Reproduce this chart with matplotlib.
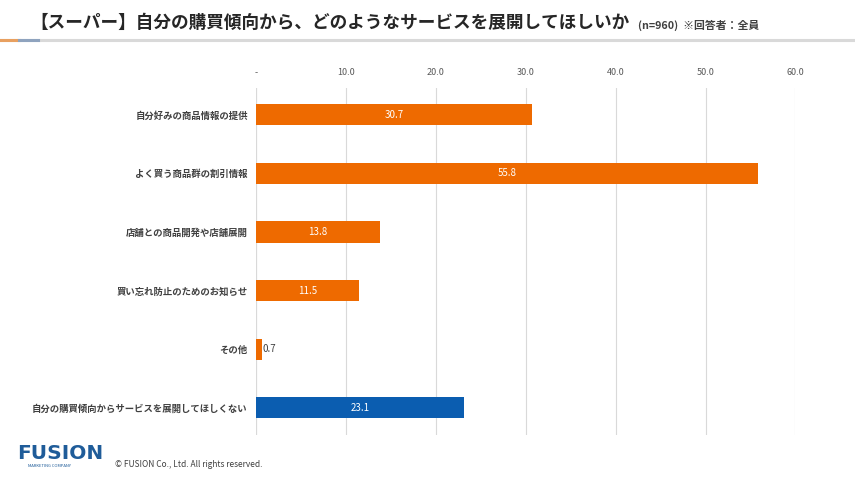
import matplotlib.pyplot as plt
from matplotlib.lines import Line2D

plt.rcParams['font.family'] = ['Noto Sans CJK JP', 'DejaVu Sans']

categories = [
    "自分好みの商品情報の提供",
    "よく買う商品群の割引情報",
    "店舗との商品開発や店舗展開",
    "買い忘れ防止のためのお知らせ",
    "その他",
    "自分の購買傾向からサービスを展開してほしくない",
]
values = [30.7, 55.8, 13.8, 11.5, 0.7, 23.1]
colors = ["#EE6A00"] * 5 + ["#0B5DB0"]
tick_values = [0, 10, 20, 30, 40, 50, 60]
tick_labels = ["-", "10.0", "20.0", "30.0", "40.0", "50.0", "60.0"]

fig = plt.figure(figsize=(8.55, 4.8), dpi=100)
ax = fig.add_axes([0.2994, 0.094, 0.631, 0.723])

y = list(range(len(categories)))
ax.barh(y, values, height=0.36, color=colors, zorder=3)
ax.set_ylim(5.46, -0.46)
ax.set_xlim(0, 60)

ax.set_xticks(tick_values)
ax.set_xticklabels(tick_labels, fontsize=6.5, color="#595959")
ax.xaxis.tick_top()
ax.tick_params(axis="x", length=0, pad=8)
ax.set_yticks(y)
ax.set_yticklabels(categories, fontsize=6.75, color="#404040", fontweight="bold")
ax.tick_params(axis="y", length=0, pad=6)
ax.grid(axis="x", color="#D9D9D9", linewidth=0.8, zorder=0)
for s in ax.spines.values():
    s.set_visible(False)
ax.axvline(0, color="#D9D9D9", linewidth=0.8, zorder=1)

for yi, v in zip(y, values):
    if v > 5:
        ax.text(v / 2, yi, f"{v:.1f}", ha="center", va="center", color="white", fontsize=7, zorder=4)
    else:
        ax.text(v + 0.05, yi, f"{v:.1f}", ha="left", va="center", color="#404040", fontsize=7, zorder=4)

# title
fig.text(0.035, 0.953, "【スーパー】自分の購買傾向から、どのようなサービスを展開してほしいか",
         fontsize=12.7, fontweight="bold", color="#262626", va="center")
fig.text(0.746, 0.948, "(n=960)  ※回答者：全員", fontsize=7.8, fontweight="bold",
         color="#404040", va="center")

# header line
fig.add_artist(Line2D([0.0, 1.0], [0.916, 0.916], color="#D9D9D9", linewidth=2.2, transform=fig.transFigure))
fig.add_artist(Line2D([0.0, 0.022], [0.916, 0.916], color="#E8A060", linewidth=2.2, transform=fig.transFigure))
fig.add_artist(Line2D([0.022, 0.044], [0.916, 0.916], color="#8FA3BE", linewidth=2.2, transform=fig.transFigure))

# footer
fig.text(0.02, 0.055, "FUSION", fontsize=14.5, fontweight="bold", color="#1F5C99", va="center",
         family=["DejaVu Sans"])
fig.text(0.033, 0.03, "MARKETING COMPANY", fontsize=3, color="#1F5C99", va="center")
fig.text(0.135, 0.033, "© FUSION Co., Ltd. All rights reserved.", fontsize=6, color="#404040", va="center")

fig.savefig("out.png", dpi=100)
